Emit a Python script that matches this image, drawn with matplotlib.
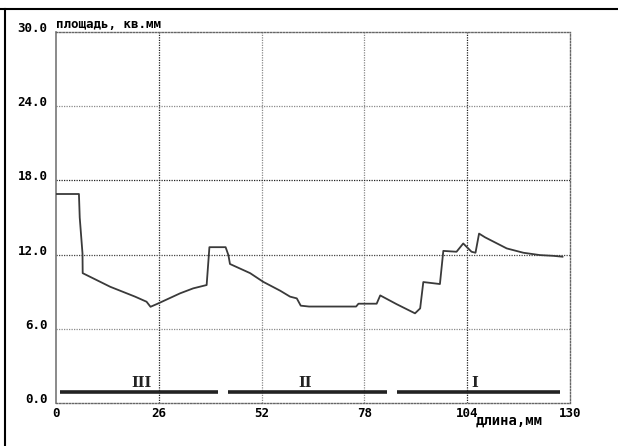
import matplotlib
matplotlib.use("Agg")
import matplotlib.pyplot as plt
from matplotlib.lines import Line2D
import matplotlib.transforms as mtransforms

# data
length_mm = [0, 5.8, 6.0, 6.7, 6.75, 13.7, 20.0, 22.9, 23.9, 25.5, 31.4, 34.7, 38.1, 38.8,
             42.9, 43.6, 44.0, 49.1, 52.4, 56.7, 59.2, 60.9, 61.9, 64.0, 75.9, 76.5, 81.1,
             82.0, 86.1, 90.8, 92.1, 92.9, 97.1, 97.96, 101.3, 103.0, 105.1, 106.1, 107.0,
             108.5, 114.0, 118.2, 122.4, 125.8, 128.1]
area_sqmm = [16.9, 16.9, 15.0, 12.1, 10.5, 9.4, 8.6, 8.19, 7.78, 8.0, 8.87, 9.27, 9.54, 12.6,
             12.6, 11.96, 11.24, 10.5, 9.8, 9.08, 8.6, 8.46, 7.87, 7.8, 7.8, 8.03, 8.03,
             8.7, 8.0, 7.25, 7.65, 9.78, 9.62, 12.3, 12.23, 12.9, 12.23, 12.15, 13.7,
             13.4, 12.5, 12.15, 11.96, 11.9, 11.83]
zone_start = [1.0, 43.5, 86.2]
zone_end = [41.0, 83.7, 127.5]
zone_label_x = [21.5, 63.0, 106.0]
zone_labels = ["III", "II", "I"]
zone_level = 0.87
xticks = [0, 26, 52, 78, 104, 130]
yticks = [0, 6, 12, 18, 24, 30]
ytick_labels = ["0.0", "6.0", "12.0", "18.0", "24.0", "30.0"]

W, H = 618, 446
fig = plt.figure(figsize=(W / 100, H / 100), dpi=100)
fig.patch.set_facecolor("white")
ax = fig.add_axes([56 / W, 1 - 403 / H, (570 - 56) / W, (403 - 32) / H])
ax.set_xlim(0, 130)
ax.set_ylim(0, 30)

dot = (0, (1, 1))
# grid
vcol = {26: "#222222", 52: "#8a8a8a", 78: "#8a8a8a", 104: "#222222"}
for xv, c in vcol.items():
    ax.axvline(xv, color=c, lw=0.9, ls=dot, zorder=1)
hcol = {6: "#8a8a8a", 12: "#444444", 18: "#222222", 24: "#8a8a8a"}
for yv, c in hcol.items():
    ax.axhline(yv, color=c, lw=0.9, ls=dot, zorder=1)

for side in ["top", "right", "bottom"]:
    ax.spines[side].set_linestyle((0, (1, 1.3)))
    ax.spines[side].set_color("#666666")
    ax.spines[side].set_linewidth(1)
ax.spines["left"].set_color("#777777")
ax.spines["left"].set_linewidth(1.2)

ax.plot(length_mm, area_sqmm, color="#3a3a3a", lw=1.3, zorder=3)

for s, e in zip(zone_start, zone_end):
    ax.plot([s, e], [zone_level, zone_level], color="#222222", lw=2.6, solid_capstyle="butt", zorder=3)
for lx, lab in zip(zone_label_x, zone_labels):
    ax.text(lx, zone_level + 0.2, lab, ha="center", va="bottom", family="DejaVu Serif",
            fontweight="bold", fontsize=10.5, color="#222222", zorder=4)

mono = dict(family="DejaVu Sans Mono", fontweight="bold", fontsize=9)
ax.set_xticks(xticks)
ax.set_xticklabels([str(v) for v in xticks], **mono)
ax.set_yticks(yticks)
ax.set_yticklabels(ytick_labels, **mono)
ax.tick_params(axis="both", length=0)
ax.tick_params(axis="x", pad=3)
ax.tick_params(axis="y", pad=6)
up = mtransforms.ScaledTranslation(0, 5 / 100, fig.dpi_scale_trans)
for lab in ax.get_yticklabels():
    lab.set_transform(lab.get_transform() + up)

fig.text(56 / W, 1 - 24 / H, "площадь, кв.мм", ha="left", va="center", **mono)
fig.text(476 / W, 1 - 421 / H, "длина,мм", ha="left", va="center",
         family="DejaVu Sans Mono", fontweight="bold", fontsize=10)

# outer frame lines
fig.add_artist(Line2D([0, 1], [1 - 9 / H, 1 - 9 / H], color="black", lw=1.5, transform=fig.transFigure))
fig.add_artist(Line2D([5 / W, 5 / W], [0, 1 - 9 / H], color="black", lw=1.5, transform=fig.transFigure))

fig.savefig("out.png", dpi=100, facecolor="white")
